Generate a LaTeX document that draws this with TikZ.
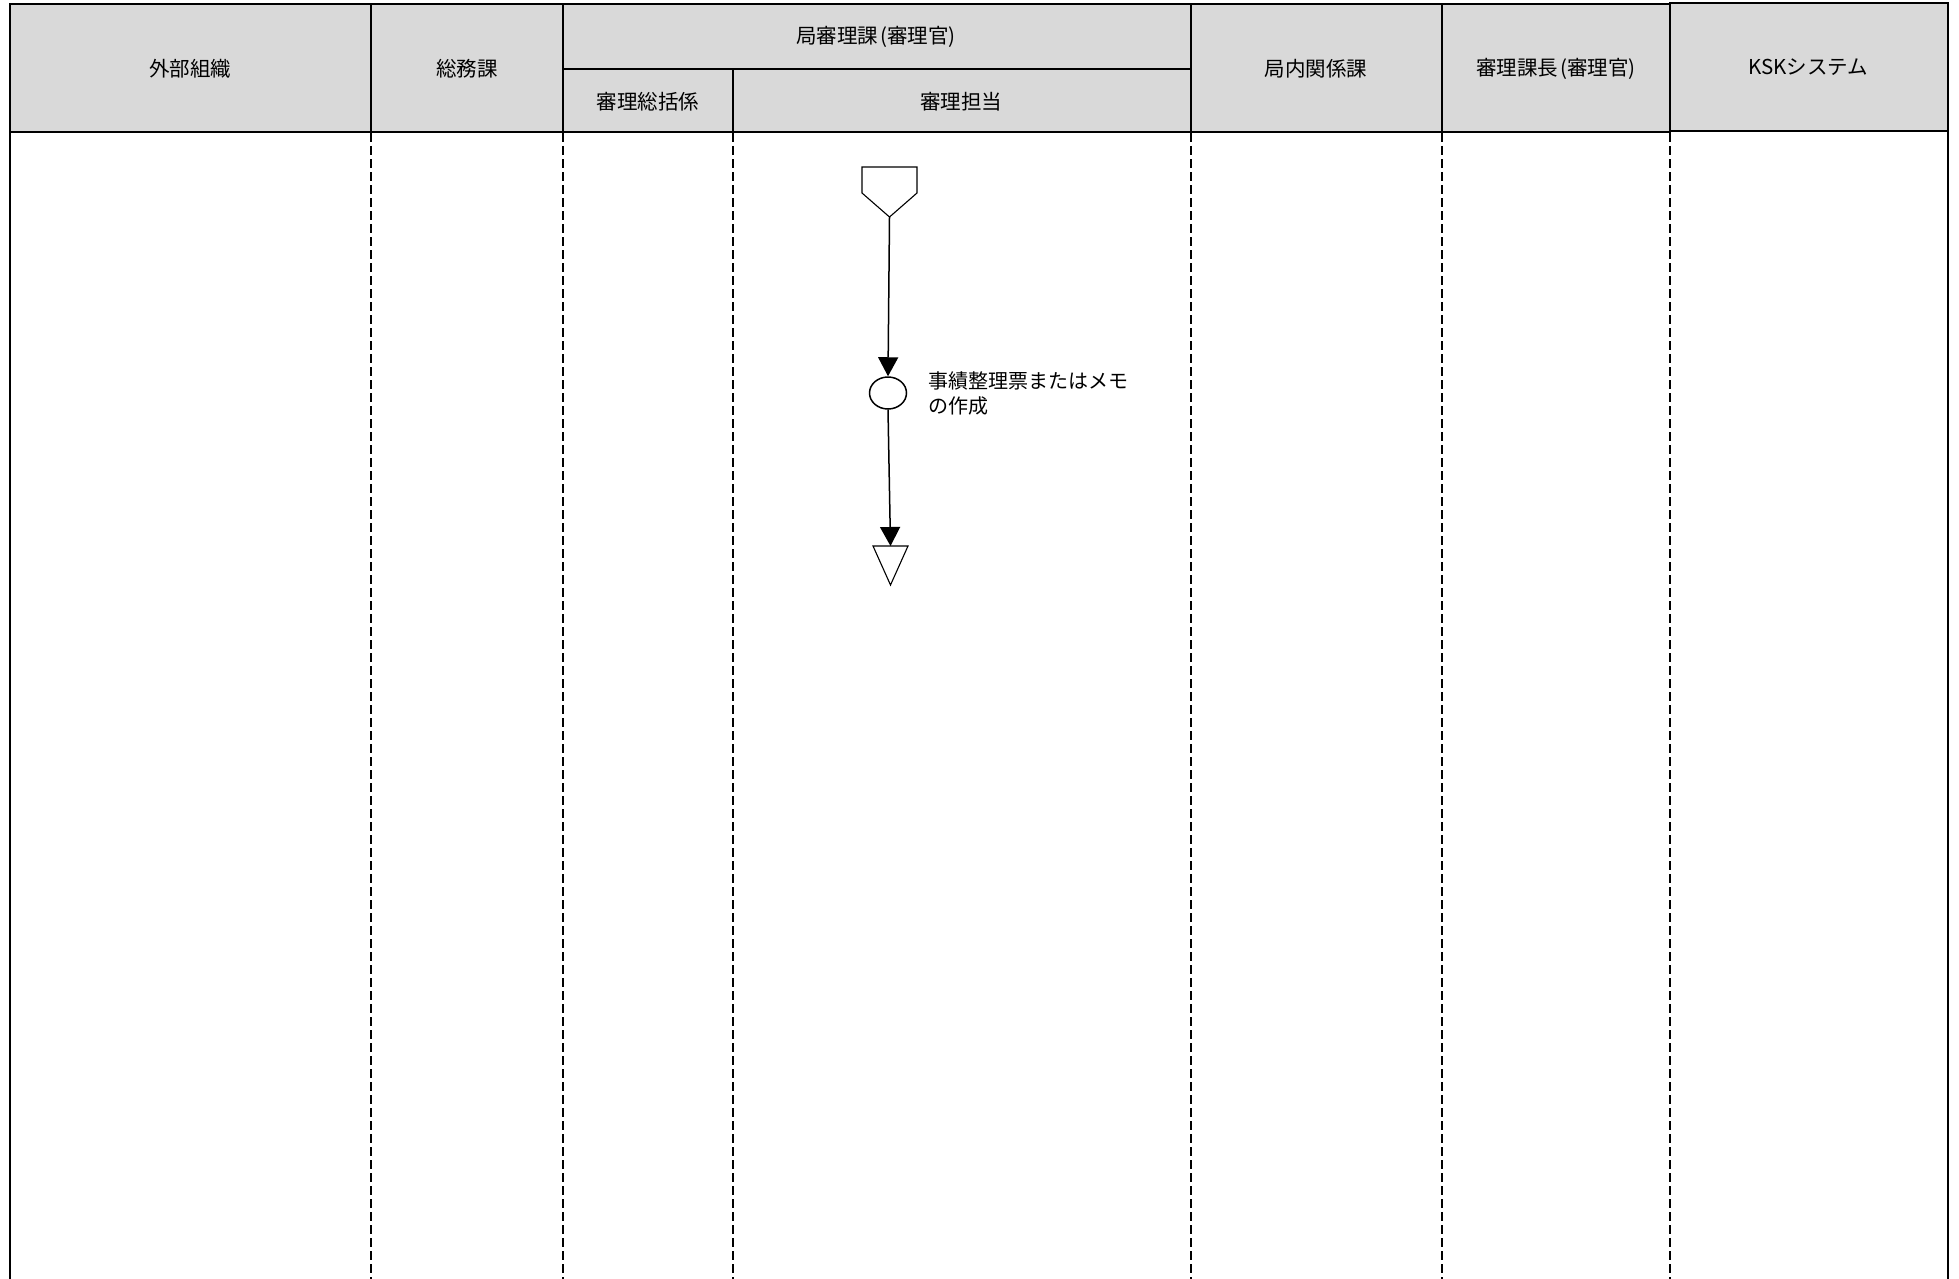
\documentclass[tikz,border=0pt]{standalone}
\usepackage{fontspec}
\setmainfont{Noto Sans CJK JP}
\usetikzlibrary{arrows.meta,shapes.geometric}
\definecolor{hdrgray}{HTML}{D9D9D9}
\tikzset{
  hdr/.style={draw=black, line width=1.8pt, fill=hdrgray},
  hdrtext/.style={font=\fontsize{20.5}{24}\selectfont, inner sep=0pt},
  lanedash/.style={draw=black, line width=1.3pt, dash pattern=on 9pt off 4pt},
  laneedge/.style={draw=black, line width=1.6pt},
  flow/.style={draw=black, line width=1.5pt, -{Triangle[length=19pt,width=20pt]}},
  shapeline/.style={draw=black, line width=1.1pt, fill=white},
}
\newcommand{\lpar}{\hspace{2pt}(}
\newcommand{\rpar}{)\hspace{2pt}}
\begin{document}
\begin{tikzpicture}[x=1pt,y=-1pt]
\useasboundingbox (0,0) rectangle (1959,1279);
% header cells
\draw[hdr] (10,4) rectangle (371,132);
\draw[hdr] (371,4) rectangle (563,132);
\draw[hdr] (563,4) rectangle (1191,69);
\draw[hdr] (563,69) rectangle (733,132);
\draw[hdr] (733,69) rectangle (1191,132);
\draw[hdr] (1191,4) rectangle (1442,132);
\draw[hdr] (1442,4) rectangle (1670,132);
\draw[hdr] (1670,3) rectangle (1948,131);
\node[hdrtext] (h1) at (190,69) {外部組織};
\node[hdrtext] (h2) at (467,69) {総務課};
\node[hdrtext] (h3) at (876,37) {局審理課\lpar 審理官\rpar};
\node[hdrtext] (h4) at (648,102) {審理総括係};
\node[hdrtext] (h5) at (961,102) {審理担当};
\node[hdrtext] (h6) at (1316,69) {局内関係課};
\node[hdrtext] (h7) at (1556,69) {審理課長\lpar 審理官\rpar};
\node[hdrtext] (h8) at (1808,67) {KSKシステム};
% lane lines
\draw[laneedge] (10,132) -- (10,1279);
\draw[laneedge] (1948,132) -- (1948,1279);
\foreach \x in {371,563,733,1191,1442,1670}
  \draw[lanedash] (\x,133) -- (\x,1279);
% flow elements
\draw[shapeline] (862,167) -- (917,167) -- (917,193) -- (889.5,217) -- (862,193) -- cycle;
\coordinate (start) at (889.5,217);
\node[draw=black, line width=1.5pt, fill=white, ellipse, minimum width=37pt, minimum height=32pt, inner sep=0pt] (act) at (888,393) {};
\draw[shapeline] (873,546) -- (908,546) -- (890.5,585) -- cycle;
\coordinate (endtop) at (890.5,546);
\draw[flow] (start) -- (act.north);
\draw[flow] (act.south) -- (endtop);
\node[anchor=north west, align=left, font=\fontsize{20}{25}\selectfont, inner sep=0pt] (lbl) at (928,371) {事績整理票またはメモ\\の作成};
\end{tikzpicture}
\end{document}
